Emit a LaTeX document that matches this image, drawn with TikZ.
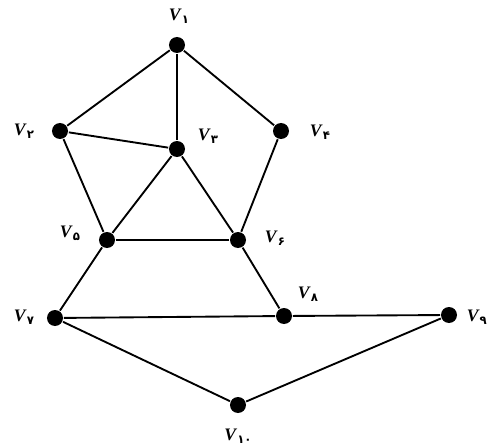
\documentclass[tikz,border=0pt]{standalone}
\usepackage{fontspec}
\setmainfont{Liberation Serif}
\newfontfamily\fa[Script=Arabic]{DejaVu Sans}
\usepackage{tikz}
\newcommand{\vlab}[1]{\textbf{\textit{V}}\raisebox{-.4ex}{\fa\bfseries\normalsize #1}}

\begin{document}
\begin{tikzpicture}[x=0.03cm, y=-0.03cm, line width=1.6pt,
  vert/.style={circle, fill=black, inner sep=0pt, minimum size=0.48cm},
  lab/.style={font=\fontsize{15}{18}\selectfont, inner sep=1pt}]
\useasboundingbox (0,0) rectangle (490,447);
\node[vert] (v1) at (177,45) {};
\node[vert] (v2) at (60,131) {};
\node[vert] (v3) at (177,149) {};
\node[vert] (v4) at (281,131) {};
\node[vert] (v5) at (107,240) {};
\node[vert] (v6) at (238,240) {};
\node[vert] (v7) at (55,318) {};
\node[vert] (v8) at (284,316) {};
\node[vert] (v9) at (449,315) {};
\node[vert] (v10) at (238,405) {};
\node[lab] (l1) at (179,16) {\vlab{۱}};
\node[lab] (l2) at (24,131) {\vlab{۲}};
\node[lab] (l3) at (208,136) {\vlab{۳}};
\node[lab] (l4) at (320,132) {\vlab{۴}};
\node[lab] (l5) at (70,233) {\vlab{۵}};
\node[lab] (l6) at (275,238) {\vlab{۶}};
\node[lab] (l7) at (24,317) {\vlab{۷}};
\node[lab] (l8) at (308,294) {\vlab{۸}};
\node[lab, anchor=east] (l9) at (489,317) {\vlab{۹}};
\node[lab] (l10) at (238,436) {\vlab{۱۰}};
\draw (v1) -- (v2);
\draw (v1) -- (v3);
\draw (v1) -- (v4);
\draw (v2) -- (v3);
\draw (v2) -- (v5);
\draw (v3) -- (v5);
\draw (v3) -- (v6);
\draw (v4) -- (v6);
\draw (v5) -- (v6);
\draw (v5) -- (v7);
\draw (v6) -- (v8);
\draw (v7) -- (v8);
\draw (v8) -- (v9);
\draw (v7) -- (v10);
\draw (v10) -- (v9);
\end{tikzpicture}
\end{document}
